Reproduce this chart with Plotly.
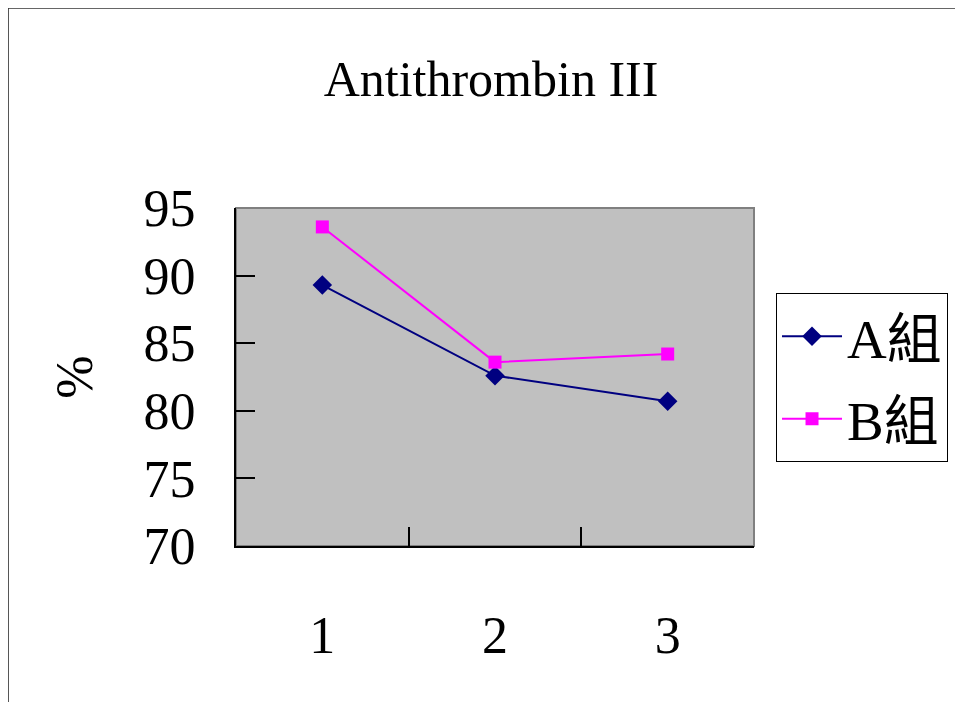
import plotly.graph_objects as go

categories = ["1", "2", "3"]
series_a = [89.3, 82.6, 80.7]
series_b = [93.6, 83.6, 84.2]
y_ticks = [70, 75, 80, 85, 90, 95]

FONT = "Liberation Serif, 'Times New Roman', 'Noto Sans CJK TC', serif"

fig = go.Figure()
fig.add_trace(go.Scatter(
    x=categories, y=series_a, name="A組", mode="lines+markers",
    legendgroup="a",
    line=dict(color="#000080", width=2),
    marker=dict(symbol="diamond", size=15, color="#000080"),
))
fig.add_trace(go.Scatter(
    x=categories, y=series_b, name="B組", mode="lines+markers",
    legendgroup="b",
    line=dict(color="#FF00FF", width=2),
    marker=dict(symbol="square", size=13, color="#FF00FF"),
))

fig.update_layout(
    width=955, height=694,
    margin=dict(l=228, r=209, t=200, b=156),
    paper_bgcolor="white",
    plot_bgcolor="#C0C0C0",
    font=dict(family=FONT, color="black", size=50),
    title=dict(text="Antithrombin III", x=0.5058, xanchor="center",
               y=0.8991, yanchor="middle", font=dict(size=50)),
    showlegend=True,
    legend=dict(x=1.0425, y=0.7485, xanchor="left", yanchor="top",
                bordercolor="#000000", borderwidth=1, bgcolor="white",
                font=dict(size=55), itemwidth=60, tracegroupgap=8),
    shapes=[
        dict(type="rect", xref="paper", yref="paper", x0=0, x1=1, y0=0, y1=1,
             line=dict(color="#808080", width=2), layer="below"),
        dict(type="line", xref="paper", yref="paper", x0=-0.44, x1=-0.44,
             y0=-0.5, y1=1.5917, line=dict(color="#333333", width=1.5)),
        dict(type="line", xref="paper", yref="paper", x0=-0.44, x1=1.5,
             y0=1.5917, y1=1.5917, line=dict(color="#333333", width=1.5)),
    ],
)

fig.update_xaxes(
    type="category", range=[-0.5, 2.5], tickson="boundaries",
    ticks="inside", ticklen=19, tickwidth=1.5, tickcolor="black",
    showline=True, linecolor="black", linewidth=2,
    showgrid=False, zeroline=False, ticklabelstandoff=43,
    tickfont=dict(size=52),
)
fig.update_yaxes(
    range=[70, 95], tickvals=y_ticks, ticktext=[str(v) for v in y_ticks],
    ticks="inside", ticklen=19, tickwidth=1.5, tickcolor="black",
    showline=True, linecolor="black", linewidth=2,
    showgrid=False, zeroline=False, ticklabelstandoff=28,
    tickfont=dict(size=52),
    title=dict(text="%", font=dict(size=52), standoff=34),
)

fig.write_html("out.html")
